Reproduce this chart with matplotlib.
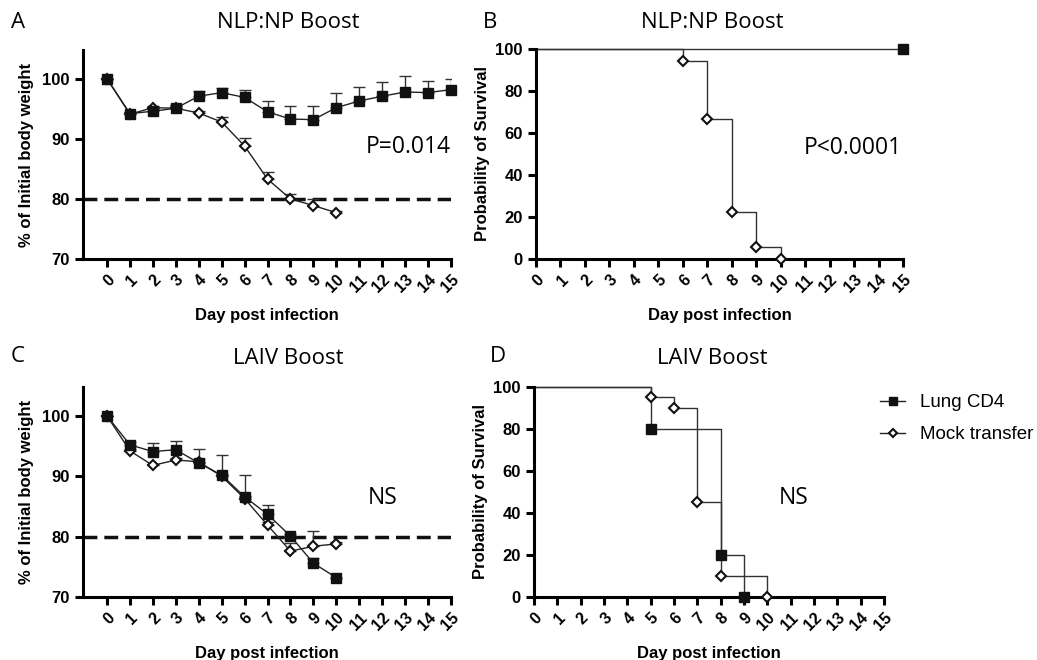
import numpy as np
import matplotlib
matplotlib.use("Agg")
import matplotlib.pyplot as plt

# --- data ---
days = list(range(16))
days10 = list(range(11))

# A: NLP:NP boost, body weight (% of initial), mean and upper SEM
a_lung = [100, 94.2, 94.6, 95.1, 97.1, 97.7, 96.9, 94.5, 93.3, 93.2, 95.2, 96.3, 97.1, 97.8, 97.7, 98.2]
a_lung_err = [0, 0.3, 0.3, 0.5, 0.9, 0.7, 1.2, 1.8, 2.2, 2.2, 2.4, 2.4, 2.4, 2.6, 2.0, 1.8]
a_mock = [100, 94.1, 95.2, 95.1, 94.3, 92.8, 88.8, 83.3, 80.0, 78.9, 77.7]
a_mock_err = [0, 0.3, 0.3, 0.4, 0.3, 0.9, 1.3, 1.1, 0.9, 1.1, 0.3]

# C: LAIV boost, body weight
c_lung = [100, 95.2, 94.1, 94.4, 92.2, 90.2, 86.6, 83.7, 80.1, 75.6, 73.2]
c_lung_err = [0, 0.4, 1.4, 1.5, 2.4, 3.3, 3.6, 1.6, 0.4, 0.8, 0]
c_mock = [100, 94.2, 91.8, 92.7, 92.4, 90.0, 86.3, 81.9, 77.6, 78.4, 78.8]
c_mock_err = [0, 0.3, 0.3, 0.3, 0.5, 0.3, 0.5, 0.6, 1.3, 2.5, 0.3]

# B: NLP:NP boost, survival (Kaplan-Meier steps)
b_lung_t = [0, 15]
b_lung_s = [100, 100]
b_mock_t = [0, 6, 7, 8, 9, 10]
b_mock_s = [100, 94.4, 66.7, 22.2, 5.6, 0]

# D: LAIV boost, survival
d_lung_t = [0, 5, 8, 9]
d_lung_s = [100, 80, 20, 0]
d_mock_t = [0, 5, 6, 7, 8, 10]
d_mock_s = [100, 95, 90, 45, 10, 0]

labels = ["Lung CD4", "Mock transfer"]

title_font = "Open Sans"
tick_font = "Liberation Sans"

fig = plt.figure(figsize=(10.37, 6.6), dpi=100)

axA = fig.add_axes([0.0800, 0.6076, 0.3549, 0.3167])
axB = fig.add_axes([0.5169, 0.6076, 0.3539, 0.3182])
axC = fig.add_axes([0.0800, 0.0955, 0.3549, 0.3182])
axD = fig.add_axes([0.5150, 0.0955, 0.3375, 0.3182])


def style_axes(ax):
    for s in ["top", "right"]:
        ax.spines[s].set_visible(False)
    for s in ["left", "bottom"]:
        ax.spines[s].set_linewidth(2.2)
    ax.tick_params(axis="both", direction="out", length=6, width=2.2)
    ax.set_xticks(days)
    ax.set_xticklabels([str(d) for d in days], rotation=45, ha="right",
                       rotation_mode="anchor", fontsize=11.5, fontweight="bold",
                       family=tick_font)
    for lab in ax.get_yticklabels():
        lab.set_fontsize(12)
        lab.set_fontweight("bold")
        lab.set_family(tick_font)
    ax.set_xlabel("Day post infection", fontsize=12, fontweight="bold",
                  family=tick_font, labelpad=9)


def weight_panel(ax, lung, lung_err, mock, mock_err):
    ax.errorbar(days10, mock, yerr=[np.zeros(len(mock_err)), mock_err], fmt="none",
                ecolor="#333333", elinewidth=1, capsize=4, capthick=1, zorder=2)
    ax.plot(days10, mock, color="#222222", lw=1, marker="D", markersize=5.5,
            markerfacecolor="white", markeredgecolor="#111111", markeredgewidth=1.5,
            zorder=3, clip_on=False)
    x_l = days[:len(lung)]
    ax.errorbar(x_l, lung, yerr=[np.zeros(len(lung_err)), lung_err], fmt="none",
                ecolor="#333333", elinewidth=1, capsize=4, capthick=1, zorder=2)
    ax.plot(x_l, lung, color="#222222", lw=1, marker="s", markersize=7.5,
            markerfacecolor="#111111", markeredgecolor="#111111", zorder=4, clip_on=False)
    ax.axhline(80, color="#111111", lw=2.5, dashes=(4, 2), zorder=1)
    ax.set_xlim(-1.05, 15)
    ax.set_ylim(70, 104.8)
    ax.set_yticks([70, 80, 90, 100])
    ax.set_ylabel("% of Initial body weight", fontsize=12, fontweight="bold",
                  family=tick_font, labelpad=6)
    style_axes(ax)


def survival_panel(ax, lt, ls, mt, ms):
    ax.step(mt, ms, where="post", color="#333333", lw=1, zorder=2, clip_on=False)
    ax.plot(mt[1:], ms[1:], ls="none", marker="D", markersize=5.5,
            markerfacecolor="white", markeredgecolor="#111111", markeredgewidth=1.5,
            zorder=3, clip_on=False)
    ax.step(lt, ls, where="post", color="#333333", lw=1, zorder=2, clip_on=False)
    ax.plot(lt[1:], ls[1:], ls="none", marker="s",
            markersize=7.5, markerfacecolor="#111111", markeredgecolor="#111111",
            zorder=4, clip_on=False)
    ax.set_xlim(0, 15)
    ax.set_ylim(0, 100)
    ax.set_yticks([0, 20, 40, 60, 80, 100])
    ax.set_ylabel("Probability of Survival", fontsize=12, fontweight="bold",
                  family=tick_font, labelpad=4)
    style_axes(ax)


weight_panel(axA, a_lung, a_lung_err, a_mock, a_mock_err)
weight_panel(axC, c_lung, c_lung_err, c_mock, c_mock_err)
survival_panel(axB, b_lung_t, b_lung_s, b_mock_t, b_mock_s)
survival_panel(axD, d_lung_t, d_lung_s, d_mock_t, d_mock_s)

# panel titles and letters
fig.text(288 / 1037, 1 - 23 / 660, "NLP:NP Boost", ha="center", va="center",
         fontsize=16, family=title_font)
fig.text(712 / 1037, 1 - 23 / 660, "NLP:NP Boost", ha="center", va="center",
         fontsize=16, family=title_font)
fig.text(288 / 1037, 1 - 358 / 660, "LAIV Boost", ha="center", va="center",
         fontsize=16, family=title_font)
fig.text(712 / 1037, 1 - 358 / 660, "LAIV Boost", ha="center", va="center",
         fontsize=16, family=title_font)
for letter, x, y in [("A", 18, 23), ("B", 490, 23), ("C", 18, 356), ("D", 498, 356)]:
    fig.text(x / 1037, 1 - y / 660, letter, ha="center", va="center",
             fontsize=16, family=title_font)

# statistics annotations
fig.text(451 / 1037, 1 - 147 / 660, "P=0.014", ha="right", va="center",
         fontsize=16.5, family=title_font)
fig.text(902 / 1037, 1 - 148 / 660, "P<0.0001", ha="right", va="center",
         fontsize=16.5, family=title_font)
fig.text(383 / 1037, 1 - 498 / 660, "NS", ha="center", va="center",
         fontsize=16.5, family=title_font)
fig.text(794 / 1037, 1 - 498 / 660, "NS", ha="center", va="center",
         fontsize=16.5, family=title_font)

# legend
h_lung, = axD.plot([], [], color="#222222", lw=1, marker="s", markersize=5.5,
                   markerfacecolor="#111111", markeredgecolor="#111111")
h_mock, = axD.plot([], [], color="#222222", lw=1, marker="D", markersize=4.5,
                   markerfacecolor="white", markeredgecolor="#111111", markeredgewidth=1.5)
fig.legend([h_lung, h_mock], labels, loc="upper left",
           bbox_to_anchor=(880 / 1037, 1 - 394 / 660), frameon=False,
           borderpad=0, borderaxespad=0,
           handlelength=1.35, handletextpad=0.8, labelspacing=0.8,
           prop={"family": tick_font, "size": 13.5})

fig.savefig("out.png", dpi=100)
